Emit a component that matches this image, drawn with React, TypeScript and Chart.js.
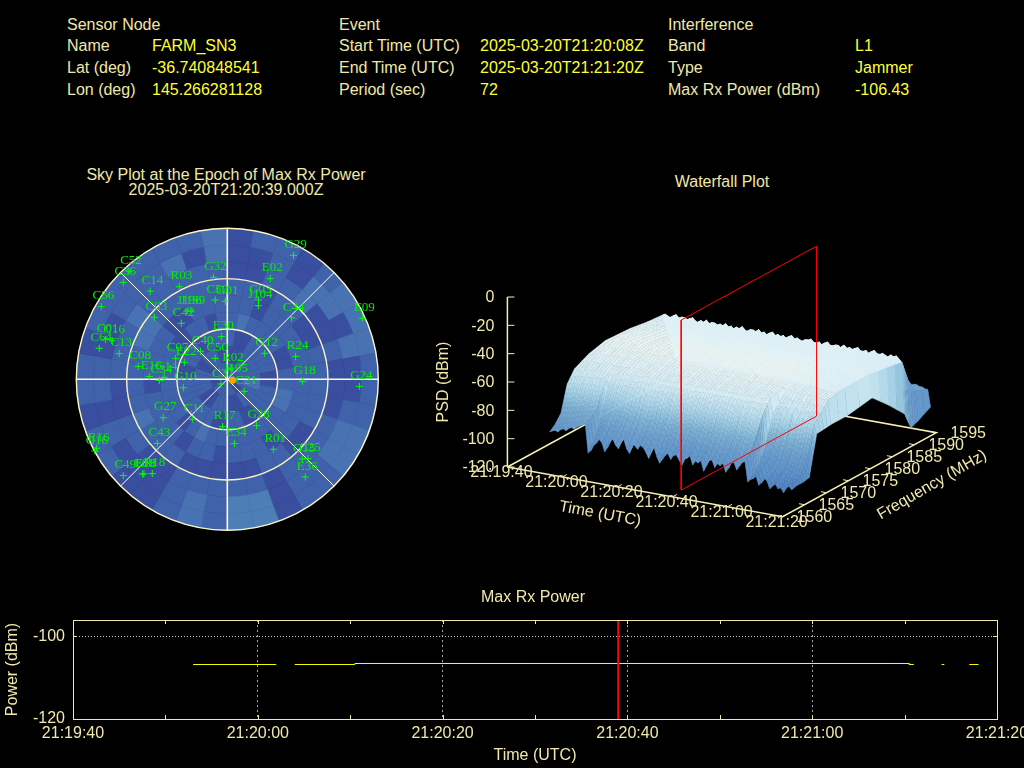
import React, { useEffect, useRef } from 'react';
import { Chart, registerables } from 'chart.js';

Chart.register(...registerables);

const PALE = '#f0e8aa';
const FONT = '"Liberation Sans", Arial, sans-serif';

/* ---------- header ---------- */
const nodeRows = [['Name', 'FARM_SN3'], ['Lat (deg)', '-36.740848541'], ['Lon (deg)', '145.266281128']];
const eventRows = [['Start Time (UTC)', '2025-03-20T21:20:08Z'], ['End Time (UTC)', '2025-03-20T21:21:20Z'], ['Period (sec)', '72']];
const interferenceRows = [['Band', 'L1'], ['Type', 'Jammer'], ['Max Rx Power (dBm)', '-106.43']];

/* ---------- sky plot: x = east, y = north, in degrees of zenith angle ---------- */
const satNames = ['G29','E02','G32','C52','C36','C14','R03','C59','G01','G03','J104','C44','E09','C56','C03','J196','J199','C42','E30','C40','C50','R02','J195','C37','C21','G12','R24','G18','G24','C01','C16','C64','C13','C08','E16','C34','G14','C07','E22','G10','G27','C11','R17','G28','E34','R01','C43','R16','G16','C49','E08','E18','R18','G15','C25','E36'];
const satEast = [39.5,25.6,-8.3,-58.6,-62.0,-45.9,-28.6,-7.2,-1.2,18.5,18.5,38.3,80.5,-75.1,-43.5,-23.8,-21.7,-27.4,-3.6,-15.9,-7.2,2.2,3.8,-3.8,10.1,22.3,40.7,44.9,78.7,-72.5,-68.6,-76.3,-64.4,-53.1,-46.5,-40.5,-37.6,-30.8,-25.6,-26.2,-38.2,-20.9,-2.8,17.5,4.2,27.4,-41.7,-77.9,-78.9,-62.0,-50.5,-49.7,-44.7,44.7,48.1,46.5];
const satNorth = [73.9,60.0,60.8,64.4,57.8,52.5,55.2,47.3,46.5,47.3,43.9,36.6,36.4,43.3,37.0,40.7,40.7,33.4,25.4,16.7,12.5,6.6,-0.2,-2.8,-7.2,15.5,13.7,-1.2,-4.2,23.8,23.0,18.5,15.3,7.6,1.6,-0.6,1.2,12.3,10.1,-5.0,-22.9,-23.8,-28.2,-27.6,-38.3,-41.7,-38.2,-41.1,-42.7,-57.4,-56.4,-56.4,-56.2,-47.5,-47.3,-58.2];
const jammerEast = [3.0];
const jammerNorth = [-0.6];
const skyRingZenith = [30, 60, 90];
const skyLevelColors = ['#3a4ea0', '#4062ab', '#4872b2', '#4e7eb6'];
/* power level per 10 deg azimuth (clockwise from north), one row per 10 deg of zenith angle */
const skyCell00 = [1,1,1,1,1,1,1,1,1,1,1,1,0,0,0,1,1,1,1,1,1,1,1,1,0,0,0,1,1,1,1,1,1,1,1,1];
const skyCell10 = [0,0,0,1,1,1,1,1,1,2,2,1,1,1,1,0,0,0,1,1,1,0,0,0,1,1,1,1,1,0,0,1,1,1,0,0];
const skyCell20 = [1,0,0,1,1,1,1,1,0,0,1,1,1,1,0,0,1,1,0,0,1,1,1,1,1,1,1,0,0,1,1,1,0,1,1,1];
const skyCell30 = [1,2,1,1,1,1,0,0,1,1,2,2,1,1,1,1,1,1,1,1,2,1,0,1,1,1,1,1,1,1,0,0,1,1,0,1];
const skyCell40 = [1,1,0,1,1,1,1,1,1,1,1,1,1,1,0,1,1,1,0,1,1,0,1,1,1,1,0,1,1,1,1,0,0,1,1,1];
const skyCell50 = [1,1,0,1,1,0,0,1,1,1,1,1,0,0,1,1,0,0,0,0,0,1,1,1,2,1,1,1,1,2,2,1,1,1,1,1];
const skyCell60 = [0,0,1,1,2,0,0,1,0,0,0,1,1,1,1,0,1,1,1,1,1,0,0,1,1,0,0,1,1,1,2,1,1,1,1,1];
const skyCell70 = [0,0,1,0,2,2,0,2,0,0,1,2,2,1,1,0,3,3,1,2,1,0,0,0,1,0,1,1,0,0,1,1,1,2,0,2];
const skyCell80 = [0,1,1,0,1,2,2,2,1,1,1,2,2,1,1,0,3,3,1,2,1,0,0,1,1,0,1,1,0,1,1,1,1,1,1,2];
const skyCells = [skyCell00, skyCell10, skyCell20, skyCell30, skyCell40, skyCell50, skyCell60, skyCell70, skyCell80];

/* ---------- waterfall surface: one row per frequency, seconds 11..99 ---------- */
const wfColumnCount = 89;
const wfFirstSecond = 11;
const wfFreqs = [1562.7,1563.9,1565.3,1566.7,1568.4,1571.6,1575.4,1581,1584.9,1588.4,1589.8,1591.5,1594.3];
const psd1562 = [-96,-95,-94,-95,-93,-92,-93,-91,-90,-91,
  -89,-88,-87,-86,-106,-104,-100,-98,-95,-97,
  -103,-100,-95,-93,-97,-99,-94,-92,-98,-101,
  -93,-95,-97,-94,-95,-98,-102,-96,-94,-100,
  -104,-101,-98,-96,-100,-97,-96,-99,-103,-98,
  -97,-95,-101,-98,-99,-97,-104,-100,-96,-95,
  -100,-97,-98,-96,-102,-99,-95,-94,-99,-96,
  -93,-92,-106,-104,-103,-101,-107,-105,-101,-103,
  -108,-106,-104,-107,-106,-109,-105,-104,-106];
const psd1563 = [-93,-92,-92,-91,-90,-90,-89,-88,-88,-87,
  -86,-85,-85,-84,-100,-98,-95,-93,-90,-92,
  -96,-94,-90,-89,-92,-93,-89,-88,-93,-95,
  -88,-90,-91,-89,-90,-93,-96,-91,-89,-94,
  -97,-95,-92,-91,-94,-92,-90,-93,-97,-93,
  -91,-90,-95,-92,-93,-92,-97,-94,-90,-90,
  -94,-92,-92,-91,-96,-93,-90,-89,-93,-91,
  -88,-88,-103,-101,-100,-98,-104,-102,-99,-100,
  -105,-103,-101,-103,-103,-105,-104,-104,-105];
const psd1565 = [-87,-86,-86,-85,-85,-84,-84,-83,-84,-83,
  -82,-82,-81,-80,-90,-88,-86,-85,-82,-84,
  -86,-84,-81,-82,-83,-85,-80,-80,-84,-86,
  -79,-81,-82,-80,-81,-84,-86,-82,-80,-84,
  -85,-84,-82,-81,-83,-83,-81,-82,-85,-84,
  -82,-81,-84,-83,-81,-82,-86,-84,-80,-81,
  -83,-82,-81,-80,-85,-83,-80,-80,-82,-81,
  -79,-78,-98,-96,-96,-95,-100,-98,-95,-97,
  -100,-99,-97,-99,-99,-100,-101,-101,-105];
const psd1566 = [-69,-68,-68,-67,-67,-68,-66,-67,-67,-66,
  -66,-67,-66,-66,-73,-72,-70,-70,-68,-70,
  -71,-70,-67,-68,-69,-70,-66,-67,-70,-71,
  -66,-67,-68,-66,-67,-70,-71,-68,-66,-70,
  -70,-69,-68,-67,-69,-69,-67,-68,-71,-70,
  -68,-67,-70,-69,-67,-68,-71,-70,-66,-67,
  -69,-68,-67,-66,-71,-69,-66,-66,-68,-67,
  -65,-66,-88,-86,-85,-85,-90,-88,-84,-86,
  -91,-89,-86,-88,-88,-90,-92,-92,-104];
const psd1588 = [-57,-56,-57,-58,-56,-55,-57,-56,-56,-57,
  -56,-55,-57,-58,-56,-57,-55,-57,-56,-56,
  -57,-56,-57,-55,-57,-56,-58,-56,-57,-55,
  -57,-58,-56,-56,-57,-55,-57,-56,-58,-56,
  -55,-57,-56,-57,-56,-58,-56,-55,-57,-56,
  -57,-58,-56,-56,-55,-57,-57,-56,-58,-56,
  -55,-57,-57,-56,-56,-58,-55,-57,-56,-57,
  -56,-55,-57,-57,-56,-58,-56,-55,-57,-57,
  -56,-57,-58,-56,-57,-56,-58,-60,-96];
/* the smoother rows are read every 2 s */
const psd1568 = [-61,-61,-60,-60,-59,-59,-60,-60,-59,-58,-59,-58,-58,-57,-58,-57,-58,-57,-58,-57,-58,-57,-58,-57,-58,-57,-58,-57,-58,-57,-58,-57,-58,-57,-58,-57,-68,-66,-70,-65,-72,-67,-69,-70,-76];
const psd1571 = [-56,-55,-54,-55,-54,-54,-55,-54,-55,-54,-54,-55,-54,-54,-55,-54,-54,-55,-54,-54,-55,-54,-54,-55,-54,-54,-55,-54,-54,-55,-54,-54,-55,-54,-54,-55,-56,-56,-57,-56,-57,-57,-58,-58,-75];
const psd1575 = [-53,-52,-51,-51,-50,-51,-50,-51,-51,-50,-51,-50,-51,-50,-51,-50,-51,-50,-50,-51,-50,-51,-50,-51,-50,-51,-50,-51,-50,-51,-50,-51,-50,-51,-52,-51,-52,-53,-53,-54,-54,-55,-55,-56,-75];
const psd1581 = [-54,-54,-53,-54,-53,-54,-53,-54,-53,-53,-54,-53,-54,-53,-53,-54,-53,-54,-53,-53,-54,-53,-54,-53,-53,-54,-53,-54,-53,-54,-53,-54,-53,-54,-54,-53,-55,-54,-55,-55,-56,-55,-56,-56,-72];
const psd1584 = [-56,-55,-56,-55,-55,-56,-55,-55,-56,-55,-55,-56,-55,-55,-56,-55,-55,-56,-55,-55,-56,-55,-55,-55,-56,-55,-55,-56,-55,-55,-56,-55,-55,-56,-55,-56,-55,-56,-56,-57,-56,-57,-57,-58,-84];
const psd1589 = [-73,-72,-74,-73,-75,-72,-74,-73,-75,-74,-72,-75,-73,-74,-72,-75,-73,-74,-75,-72,-74,-73,-75,-72,-74,-73,-75,-74,-72,-73,-75,-74,-73,-72,-75,-74,-73,-75,-74,-72,-75,-74,-75,-75,-108];
const psd1591 = [-93,-92,-94,-93,-95,-92,-90,-93,-95,-92,-94,-93,-91,-94,-92,-95,-93,-91,-94,-92,-93,-95,-92,-94,-91,-93,-95,-92,-94,-93,-91,-94,-92,-95,-93,-91,-94,-92,-86,-85,-84,-86,-85,-85,-106];
const psd1594 = [-101,-100,-101,-99,-102,-100,-98,-101,-99,-102,-100,-101,-99,-98,-101,-100,-102,-99,-101,-100,-98,-102,-100,-99,-101,-100,-102,-99,-101,-100,-98,-101,-99,-102,-100,-101,-99,-96,-90,-88,-89,-87,-88,-89,-101];
const psdRows = [psd1562,psd1563,psd1565,psd1566,psd1568,psd1571,psd1575,psd1581,psd1584,psd1588,psd1589,psd1591,psd1594];
const psdTicks = [0,-20,-40,-60,-80,-100,-120];
const freqTicks = [1560,1565,1570,1575,1580,1585,1590,1595];
const timeTickSeconds = [0,20,40,60,80,100];
const timeTickLabels = ['21:19:40','21:20:00','21:20:20','21:20:40','21:21:00','21:21:20'];
const sliceSecond = 59;
const sliceFreqs = [1562.6, 1593.4];
const psdColorStops = [[-108,79,128,192],[-100,95,147,201],[-90,110,160,206],[-82,127,178,213],[-72,168,211,232],[-62,207,232,242],[-55,224,241,246],[-51,234,244,242],[-50,250,244,214]];

/* ---------- max rx power ---------- */
const powerSeconds = [13,22,null,24,30.5,30.5,90.5,90.5,91,null,94,94.3,null,97,98];
const powerDbm = [-106.84,-106.84,null,-106.84,-106.84,-106.6,-106.6,-106.84,-106.84,null,-106.84,-106.84,null,-106.84,-106.84];
const epochSecond = 59;

/* 3-D view of the waterfall box, in the waterfall canvas's plane */
const project = (sec: number, mhz: number, psd: number) => {
  const f = sec / 100;
  const g = (mhz - 1560) / 35;
  return { x: 107.4 + 275.2 * f + 153.8 * g, y: 237 + 49.7 * f - 84 * g - (170 / 120) * (psd + 120) };
};
const psdColor = (z: number) => {
  const s = psdColorStops;
  if (z <= s[0][0]) return `rgb(${s[0][1]},${s[0][2]},${s[0][3]})`;
  for (let i = 1; i < s.length; i++) {
    if (z <= s[i][0]) {
      const a = (z - s[i - 1][0]) / (s[i][0] - s[i - 1][0]);
      const c = [1, 2, 3].map((k) => Math.round(s[i - 1][k] + a * (s[i][k] - s[i - 1][k])));
      return `rgb(${c[0]},${c[1]},${c[2]})`;
    }
  }
  const l = s[s.length - 1];
  return `rgb(${l[1]},${l[2]},${l[3]})`;
};
const psdAt = (j: number, col: number) => psdRows[j][Math.floor((col * psdRows[j].length) / wfColumnCount)];

const skyPlugin = {
  id: 'skyBackground',
  beforeDatasetsDraw(chart: any) {
    const { ctx, scales: { x, y } } = chart;
    const cx = x.getPixelForValue(0);
    const cy = y.getPixelForValue(0);
    const pxPerDeg = (x.getPixelForValue(90) - cx) / 90;
    ctx.save();
    skyCells.forEach((row, ring) => {
      const r0 = ring * 10 * pxPerDeg;
      const r1 = (ring + 1) * 10 * pxPerDeg;
      row.forEach((level, k) => {
        const a0 = ((k * 10 - 90) * Math.PI) / 180;
        const a1 = (((k + 1) * 10 - 90) * Math.PI) / 180;
        ctx.beginPath();
        ctx.arc(cx, cy, r1, a0, a1);
        ctx.arc(cx, cy, r0, a1, a0, true);
        ctx.closePath();
        ctx.fillStyle = skyLevelColors[level];
        ctx.strokeStyle = skyLevelColors[level];
        ctx.lineWidth = 0.6;
        ctx.fill();
        ctx.stroke();
      });
    });
    const R = 90 * pxPerDeg;
    ctx.strokeStyle = '#ffffff';
    ctx.lineWidth = 1;
    [45, 135].forEach((deg) => {
      const dx = R * Math.sin((deg * Math.PI) / 180);
      const dy = R * Math.cos((deg * Math.PI) / 180);
      ctx.beginPath();
      ctx.moveTo(cx - dx, cy + dy);
      ctx.lineTo(cx + dx, cy - dy);
      ctx.stroke();
    });
    ctx.strokeStyle = '#fffbe0';
    ctx.lineWidth = 1.6;
    ctx.beginPath();
    ctx.moveTo(cx - R, cy);
    ctx.lineTo(cx + R, cy);
    ctx.moveTo(cx, cy - R);
    ctx.lineTo(cx, cy + R);
    ctx.stroke();
    ctx.strokeStyle = '#fdf6c4';
    ctx.lineWidth = 1.4;
    skyRingZenith.forEach((z) => {
      ctx.beginPath();
      ctx.arc(cx, cy, z * pxPerDeg, 0, Math.PI * 2);
      ctx.stroke();
    });
    ctx.restore();
  },
  afterDatasetsDraw(chart: any) {
    const { ctx, scales: { x, y } } = chart;
    ctx.save();
    ctx.font = '13px "Liberation Serif", serif';
    ctx.fillStyle = '#00f000';
    ctx.textAlign = 'center';
    ctx.textBaseline = 'middle';
    satNames.forEach((n, i) => {
      ctx.fillText(n, x.getPixelForValue(satEast[i]) + 2, y.getPixelForValue(satNorth[i]) - 10.7);
    });
    ctx.restore();
  },
};

const waterfallPlugin = {
  id: 'waterfallSurface',
  beforeDatasetDraw(chart: any, args: any) {
    if (args.index !== 0) return;
    const { ctx, scales: { x, y } } = chart;
    const pt = (s: number, m: number, z: number) => {
      const p = project(s, m, z);
      return [x.getPixelForValue(p.x), y.getPixelForValue(p.y)];
    };
    const mix = (a: number, c: number, w: number) => a + (c - a) * w;
    ctx.save();
    ctx.lineWidth = 0.5;
    ctx.lineJoin = 'round';
    for (let i = 0; i < wfColumnCount - 1; i++) {
      const s0 = wfFirstSecond + i;
      const s1 = s0 + 1;
      for (let j = wfFreqs.length - 2; j >= 0; j--) {
        const a0 = psdAt(j, i);
        const a1 = psdAt(j + 1, i);
        const b0 = psdAt(j, i + 1);
        const b1 = psdAt(j + 1, i + 1);
        const bands = Math.max(2, Math.round(Math.abs(a1 - a0) / 3));
        for (let b = bands - 1; b >= 0; b--) {
          const lo = b / bands;
          const hi = (b + 1) / bands;
          const m0 = mix(wfFreqs[j], wfFreqs[j + 1], lo);
          const m1 = mix(wfFreqs[j], wfFreqs[j + 1], hi);
          const z00 = mix(a0, a1, lo);
          const z01 = mix(a0, a1, hi);
          const z10 = mix(b0, b1, lo);
          const z11 = mix(b0, b1, hi);
          const a = pt(s0, m0, z00);
          const c = pt(s0, m1, z01);
          const d = pt(s1, m1, z11);
          const e = pt(s1, m0, z10);
          const col = psdColor((z00 + z01 + z10 + z11) / 4);
          ctx.beginPath();
          ctx.moveTo(a[0], a[1]);
          ctx.lineTo(c[0], c[1]);
          ctx.lineTo(d[0], d[1]);
          ctx.lineTo(e[0], e[1]);
          ctx.closePath();
          ctx.fillStyle = col;
          ctx.strokeStyle = col;
          ctx.fill();
          ctx.stroke();
        }
      }
    }
    ctx.restore();
  },
  afterDraw(chart: any) {
    const { ctx, scales: { x, y } } = chart;
    const at = (s: number, m: number, z: number) => {
      const p = project(s, m, z);
      return [x.getPixelForValue(p.x), y.getPixelForValue(p.y)];
    };
    ctx.save();
    ctx.font = `16px ${FONT}`;
    ctx.fillStyle = PALE;
    ctx.textBaseline = 'middle';
    ctx.textAlign = 'right';
    psdTicks.forEach((v) => {
      const p = at(0, 1560, v);
      ctx.fillText(String(v), p[0] - 13, p[1] + 1);
    });
    ctx.textAlign = 'center';
    timeTickSeconds.forEach((s, i) => {
      const p = at(s, 1560, -120);
      ctx.fillText(timeTickLabels[i], p[0] - 6, p[1] + 6);
    });
    ctx.textAlign = 'left';
    freqTicks.forEach((m) => {
      const p = at(100, m, -120);
      ctx.fillText(String(m), p[0] + 14, p[1] + 1);
    });
    ctx.textAlign = 'center';
    const rotated = (t: string, px: number, py: number, deg: number) => {
      ctx.save();
      ctx.translate(x.getPixelForValue(px), y.getPixelForValue(py));
      ctx.rotate((deg * Math.PI) / 180);
      ctx.fillText(t, 0, 0);
      ctx.restore();
    };
    rotated('PSD (dBm)', 44, 152, -90);
    rotated('Time (UTC)', 200, 284, 10.5);
    rotated('Frequency (MHz)', 532, 255, -30);
    ctx.restore();
  },
};

const powerPlugin = {
  id: 'powerFrame',
  afterDraw(chart: any) {
    const { ctx, chartArea: a, scales: { x, y } } = chart;
    ctx.save();
    ctx.strokeStyle = PALE;
    ctx.lineWidth = 1;
    ctx.strokeRect(a.left + 0.5, a.top + 0.5, a.right - a.left, a.bottom - a.top);
    ctx.beginPath();
    x.ticks.forEach((t: any) => {
      const px = Math.round(x.getPixelForValue(t.value)) + 0.5;
      ctx.moveTo(px, a.top);
      ctx.lineTo(px, a.top + 4);
      ctx.moveTo(px, a.bottom);
      ctx.lineTo(px, a.bottom - 4);
    });
    y.ticks.forEach((t: any) => {
      const py = Math.round(y.getPixelForValue(t.value)) + 0.5;
      ctx.moveTo(a.left, py);
      ctx.lineTo(a.left + 4, py);
      ctx.moveTo(a.right, py);
      ctx.lineTo(a.right - 4, py);
    });
    ctx.stroke();
    ctx.restore();
  },
};

const Label = ({ x, y, text, color }: { x: number; y: number; text: string; color: string }) => (
  <div style={{ position: 'absolute', left: x, top: y - 9, height: 20, whiteSpace: 'nowrap', color, font: `16px/20px ${FONT}` }}>{text}</div>
);
const Centered = ({ x, y, text }: { x: number; y: number; text: string }) => (
  <div style={{ position: 'absolute', left: x - 300, width: 600, top: y - 9, textAlign: 'center', color: PALE, font: `16px/20px ${FONT}` }}>{text}</div>
);
const Block = ({ x, vx, title, rows }: { x: number; vx: number; title: string; rows: string[][] }) => (
  <>
    <Label x={x} y={24} text={title} color={PALE} />
    {rows.map((r, i) => (
      <React.Fragment key={r[0]}>
        <Label x={x} y={[45, 67, 89][i]} text={r[0]} color={PALE} />
        <Label x={vx} y={[45, 67, 89][i]} text={r[1]} color="#ffff33" />
      </React.Fragment>
    ))}
  </>
);

export default function App() {
  const skyRef = useRef<HTMLCanvasElement>(null);
  const wfRef = useRef<HTMLCanvasElement>(null);
  const powerRef = useRef<HTMLCanvasElement>(null);

  useEffect(() => {
    document.body.style.margin = '0';
    document.body.style.background = '#000';
    const noUi = { legend: { display: false }, tooltip: { enabled: false } };

    const sky = new Chart(skyRef.current as any, {
      type: 'scatter',
      data: {
        datasets: [
          { data: jammerEast.map((v, i) => ({ x: v, y: jammerNorth[i] })), pointStyle: 'circle', pointRadius: 3.5, backgroundColor: '#ffa500', borderColor: '#ffa500', borderWidth: 0, clip: false } as any,
          { data: satEast.map((v, i) => ({ x: v, y: satNorth[i] })), pointStyle: 'cross', pointRadius: 3.6, borderColor: '#00ff00', borderWidth: 1, clip: false } as any,
        ],
      },
      options: {
        responsive: false,
        animation: false,
        devicePixelRatio: 1,
        layout: { padding: { left: 16.3, right: 21.7, top: 18.3, bottom: 19.7 } },
        scales: {
          x: { type: 'linear', min: -90, max: 90, display: false },
          y: { type: 'linear', min: -90, max: 90, display: false },
        },
        plugins: noUi,
      } as any,
      plugins: [skyPlugin],
    });

    const line = (pts: { x: number; y: number }[], color: string, width = 1.5) => ({
      type: 'line', data: pts, borderColor: color, borderWidth: width, pointRadius: 0, clip: false, parsing: false, tension: 0,
    });
    const frameA = project(0, 1560, -120);
    const frameB = project(100, 1560, -120);
    const frameC = project(100, 1595, -120);
    const frameD = project(0, 1595, -120);
    const sliceA = project(sliceSecond, sliceFreqs[0], -120);
    const sliceB = project(sliceSecond, sliceFreqs[1], -120);
    const sliceC = project(sliceSecond, sliceFreqs[1], 0);
    const sliceD = project(sliceSecond, sliceFreqs[0], 0);
    const AXIS = '#f6eeb4';
    const wfDatasets: any[] = [
      line([sliceA, sliceB, sliceC, sliceD, sliceA], '#ff0000', 1),
      line([frameA, frameB, frameC, frameD, frameA], AXIS),
      line([project(0, 1560, 0), frameA], AXIS),
    ];
    psdTicks.forEach((v) => {
      const p = project(0, 1560, v);
      wfDatasets.push(line([p, { x: p.x + 7, y: p.y }], AXIS, 1));
    });
    timeTickSeconds.forEach((s) => {
      wfDatasets.push(line([project(s, 1560, -120), project(s, 1561, -120)], AXIS, 1));
    });
    freqTicks.forEach((m) => {
      wfDatasets.push(line([project(100, m, -120), project(98, m, -120)], AXIS, 1));
    });
    const wf = new Chart(wfRef.current as any, {
      type: 'scatter',
      data: { datasets: wfDatasets },
      options: {
        responsive: false,
        animation: false,
        devicePixelRatio: 1,
        scales: {
          x: { type: 'linear', min: 0, max: 624, display: false },
          y: { type: 'linear', min: 0, max: 330, reverse: true, display: false },
        },
        plugins: noUi,
      } as any,
      plugins: [waterfallPlugin],
    });

    const noPad = (s: any) => {
      s.paddingLeft = 0;
      s.paddingRight = 0;
      s.paddingTop = 0;
      s.paddingBottom = 0;
    };
    const power = new Chart(powerRef.current as any, {
      type: 'line',
      data: {
        datasets: [
          { data: [{ x: epochSecond, y: -120 }, { x: epochSecond, y: -96.1 }], borderColor: '#ff0000', borderWidth: 2, pointRadius: 0 },
          { data: powerSeconds.map((s, i) => ({ x: s, y: powerDbm[i] })), borderColor: '#ffff00', borderWidth: 1, pointRadius: 0, spanGaps: false },
        ],
      },
      options: {
        responsive: false,
        animation: false,
        devicePixelRatio: 1,
        layout: { padding: { left: 0, right: 27, top: 30, bottom: 0 } },
        scales: {
          x: {
            type: 'linear',
            min: 0,
            max: 100,
            afterFit(s: any) { s.height = 49; noPad(s); },
            border: { display: false, dash: (c: any) => (c.tick && c.tick.value % 20 === 0 ? [2, 3] : []) },
            grid: {
              drawTicks: false,
              lineWidth: 1,
              color: (c: any) => (c.tick && c.tick.value % 20 === 0 && c.tick.value > 0 && c.tick.value < 100 ? '#a8a8a8' : 'rgba(0,0,0,0)'),
            },
            ticks: {
              stepSize: 10,
              autoSkip: false,
              maxRotation: 0,
              padding: 5,
              color: PALE,
              font: { family: FONT, size: 16 },
              callback: (v: any) => (v % 20 === 0 ? timeTickLabels[v / 20] : ''),
            },
            title: { display: true, text: 'Time (UTC)', color: PALE, font: { family: FONT, size: 16 }, padding: { top: 0, bottom: 3 } },
          },
          y: {
            type: 'linear',
            min: -120,
            max: -96.1,
            afterFit(s: any) { s.width = 73; noPad(s); },
            border: { display: false, dash: [1, 2] },
            grid: {
              drawTicks: false,
              lineWidth: 1,
              color: (c: any) => (c.tick && c.tick.value === -100 ? '#c8c8c8' : 'rgba(0,0,0,0)'),
            },
            ticks: {
              stepSize: 20,
              includeBounds: false,
              padding: 8,
              color: PALE,
              font: { family: FONT, size: 16 },
            },
            title: { display: true, text: 'Power (dBm)', color: PALE, font: { family: FONT, size: 16 }, padding: { top: 3, bottom: 0 } },
          },
        },
        plugins: noUi,
      } as any,
      plugins: [powerPlugin],
    });

    return () => {
      sky.destroy();
      wf.destroy();
      power.destroy();
    };
  }, []);

  const abs = (left: number, top: number): React.CSSProperties => ({ position: 'absolute', left, top, display: 'block' });
  return (
    <div style={{ position: 'fixed', left: 0, top: 0, width: 1024, height: 768, background: '#000', overflow: 'hidden' }}>
      <canvas ref={skyRef} width={340} height={340} style={abs(60, 210)} />
      <canvas ref={wfRef} width={624} height={330} style={abs(400, 230)} />
      <canvas ref={powerRef} width={1024} height={178} style={abs(0, 590)} />
      <Block x={67} vx={152} title="Sensor Node" rows={nodeRows} />
      <Block x={339} vx={480} title="Event" rows={eventRows} />
      <Block x={668} vx={855} title="Interference" rows={interferenceRows} />
      <Centered x={226} y={174} text="Sky Plot at the Epoch of Max Rx Power" />
      <Centered x={226} y={189} text="2025-03-20T21:20:39.000Z" />
      <Centered x={722} y={181} text="Waterfall Plot" />
      <Centered x={533} y={596} text="Max Rx Power" />
    </div>
  );
}
